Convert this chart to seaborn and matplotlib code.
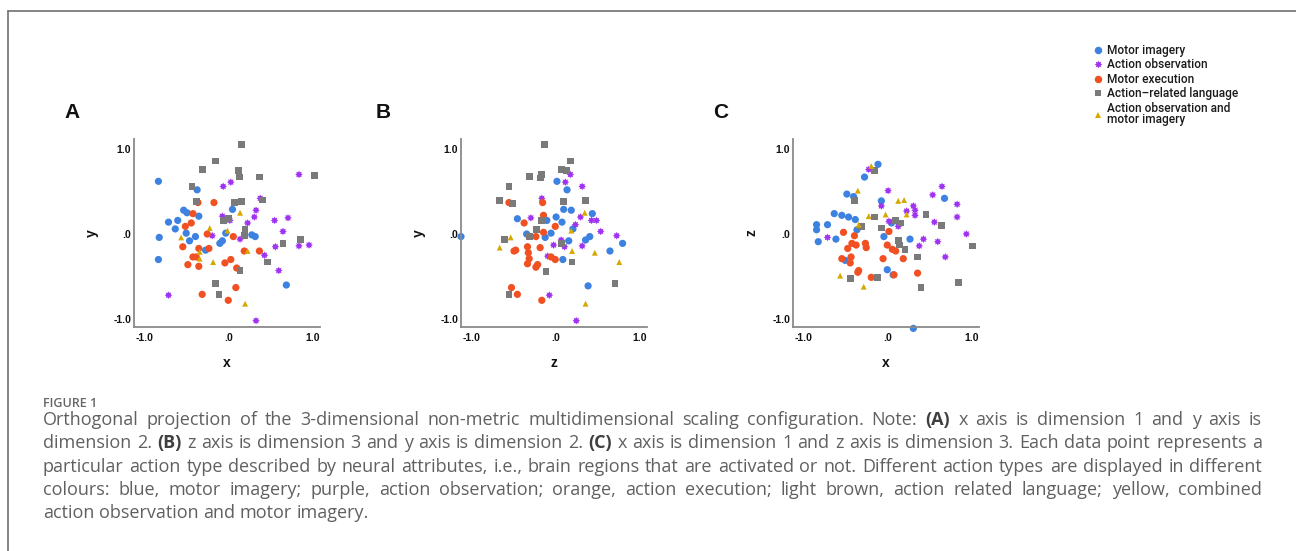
import matplotlib
matplotlib.use("Agg")
import matplotlib.pyplot as plt
from matplotlib.lines import Line2D
from matplotlib.path import Path
import numpy as np
import seaborn as sns
import pandas as pd

# ---------------- data ----------------
categories = ["Motor imagery", "Action observation", "Motor execution",
              "Action\u2013related language", "Action observation and\nmotor imagery"]

# Panel A: x (dim 1) vs y (dim 2)
A_mi_x = [-0.83, -0.37, -0.53, -0.49, -0.35, -0.71, -0.60, -0.63, -0.82, -0.83, -0.50, -0.39, -0.46, -0.27, -0.10, -0.07, -0.03, 0.05, 0.28, 0.32, 0.69]
A_mi_y = [0.62, 0.52, 0.28, 0.25, 0.21, 0.14, 0.16, 0.06, -0.04, -0.30, 0.01, -0.03, -0.08, -0.19, -0.11, -0.08, 0.01, 0.29, -0.01, -0.03, -0.60]
A_ao_x = [0.84, -0.06, 0.03, 0.38, 0.33, 0.31, 0.23, -0.07, 0.02, 0.55, 0.71, 0.65, 0.56, 0.84, 0.96, 0.14, -0.19, 0.43, 0.60, -0.71, 0.33]
A_ao_y = [0.70, 0.56, 0.61, 0.42, 0.28, 0.20, 0.13, 0.21, 0.16, 0.16, 0.19, 0.03, -0.15, -0.14, -0.13, -0.06, -0.02, -0.25, -0.43, -0.72, -1.02]
A_me_x = [-0.36, -0.17, -0.42, -0.44, -0.51, -0.54, -0.25, -0.35, -0.23, -0.42, -0.38, -0.48, -0.35, -0.04, 0.03, 0.06, 0.10, 0.19, 0.37, 0.09, -0.31, 0.00]
A_me_y = [0.37, 0.37, 0.24, 0.13, 0.09, -0.15, 0.00, -0.17, -0.17, -0.27, -0.27, -0.36, -0.38, -0.34, -0.30, -0.03, -0.40, -0.20, -0.20, -0.63, -0.71, -0.78]
A_al_x = [0.16, -0.15, -0.31, 0.12, 0.13, 0.37, 1.02, -0.43, -0.38, 0.07, 0.16, 0.41, -0.06, 0.00, 0.20, 0.19, 0.65, 0.86, 0.47, 0.14, -0.15, -0.11]
A_al_y = [1.05, 0.86, 0.76, 0.75, 0.67, 0.67, 0.69, 0.56, 0.38, 0.37, 0.38, 0.40, 0.16, 0.18, 0.05, -0.02, -0.11, -0.06, -0.33, -0.43, -0.58, -0.71]
A_aomi_x = [0.14, -0.22, -0.56, -0.01, -0.34, -0.34, -0.18, 0.23, 0.20]
A_aomi_y = [0.25, 0.07, -0.04, 0.04, -0.21, -0.29, -0.33, -0.20, -0.82]

# Panel B: z (dim 3) vs y (dim 2)
B_mi_x = [-1.12, 0.02, 0.14, 0.10, 0.19, 0.44, -0.45, -0.10, 0.01, 0.08, 0.21, -0.34, -0.12, -0.05, 0.16, 0.36, 0.41, 0.65, 0.80, 0.09, 0.39]
B_mi_y = [-0.03, 0.62, 0.52, 0.29, 0.28, 0.24, 0.18, 0.16, 0.20, 0.14, 0.06, 0.00, -0.04, 0.01, -0.08, -0.07, -0.03, -0.20, -0.11, -0.30, -0.61]
B_ao_x = [0.18, 0.12, 0.32, -0.16, -0.29, 0.30, 0.43, 0.49, 0.24, 0.54, 0.73, 0.07, 0.11, -0.02, 0.32, -0.09, -0.07, 0.25]
B_ao_y = [0.70, 0.61, 0.56, 0.42, 0.19, 0.20, 0.16, 0.16, 0.11, 0.03, -0.02, -0.07, -0.15, -0.13, -0.14, -0.26, -0.72, -1.02]
B_me_x = [-0.55, -0.15, -0.14, -0.37, -0.14, -0.23, 0.00, -0.47, -0.49, -0.33, -0.32, -0.18, -0.31, -0.33, -0.21, -0.23, -0.05, 0.00, -0.52, -0.45, -0.16]
B_me_y = [0.37, 0.37, 0.22, 0.13, 0.02, -0.03, 0.09, -0.19, -0.20, -0.15, -0.22, -0.16, -0.29, -0.35, -0.36, -0.39, -0.27, -0.30, -0.63, -0.71, -0.78]
B_al_x = [-0.13, 0.18, -0.31, -0.16, -0.18, 0.07, 0.13, -0.55, -0.66, -0.51, 0.10, 0.36, -0.16, -0.22, -0.31, -0.60, 0.07, 0.20, -0.11, 0.71, -0.55]
B_al_y = [1.05, 0.86, 0.68, 0.70, 0.66, 0.76, 0.75, 0.56, 0.39, 0.36, 0.38, 0.39, 0.16, 0.05, -0.03, -0.06, -0.11, -0.33, -0.44, -0.58, -0.71]
B_aomi_x = [0.35, 0.19, -0.53, -0.66, 0.20, 0.47, 0.76, 0.36]
B_aomi_y = [0.25, 0.04, -0.04, -0.16, -0.20, -0.22, -0.33, -0.82]

# Panel C: x (dim 1) vs z (dim 3)
C_mi_x = [-0.11, -0.27, -0.48, -0.40, -0.07, 0.68, -0.63, -0.54, -0.46, -0.38, -0.84, -0.84, -0.71, -0.82, -0.61, -0.36, 0.05, -0.04, 0.27, -0.50, 0.00, 0.07, 0.31]
C_mi_y = [0.82, 0.67, 0.47, 0.44, 0.39, 0.42, 0.24, 0.22, 0.20, 0.17, 0.11, 0.05, 0.11, -0.09, -0.06, 0.05, 0.13, -0.03, -0.06, -0.31, -0.42, -0.48, -1.11]
C_ao_x = [-0.22, 0.01, -0.07, 0.54, 0.65, 0.83, 0.83, 0.31, 0.33, 0.23, 0.33, 0.56, 0.02, 0.13, 0.94, 0.43, 0.60, 0.38, 0.69, -0.71]
C_ao_y = [0.76, 0.51, 0.33, 0.46, 0.56, 0.35, 0.20, 0.33, 0.28, 0.27, 0.22, 0.14, 0.15, 0.09, 0.00, -0.06, -0.09, -0.14, -0.27, -0.04]
C_me_x = [-0.52, -0.39, 0.02, -0.42, -0.37, -0.47, -0.26, -0.25, 0.00, 0.06, 0.10, -0.43, -0.54, -0.44, -0.05, 0.19, -0.34, -0.35, -0.19, 0.08, 0.36]
C_me_y = [0.02, -0.02, 0.03, -0.11, -0.13, -0.17, -0.11, -0.16, -0.13, -0.18, -0.20, -0.27, -0.29, -0.34, -0.29, -0.29, -0.43, -0.45, -0.51, -0.48, -0.46]
C_al_x = [-0.15, -0.39, -0.15, -0.31, -0.07, 0.10, 0.16, 0.46, 0.64, 1.01, 0.13, 0.15, 0.21, 0.36, -0.44, -0.12, 0.40, 0.85]
C_al_y = [0.75, 0.39, 0.20, 0.09, 0.07, 0.16, 0.13, 0.23, 0.10, -0.14, -0.08, -0.13, -0.18, -0.27, -0.52, -0.51, -0.63, -0.57]
C_aomi_x = [-0.19, -0.35, 0.13, 0.20, 0.23, -0.02, -0.22, -0.34, -0.56, -0.28]
C_aomi_y = [0.80, 0.51, 0.39, 0.40, 0.23, 0.23, 0.21, 0.11, -0.49, -0.62]

tick_values = [-1.0, 0.0, 1.0]
tick_labels = ["-1.0", ".0", "1.0"]

panel_letters = ["A", "B", "C"]
panel_xlabels = ["x", "z", "x"]
panel_ylabels = ["y", "y", "z"]

caption_title = "FIGURE 1"
caption_lines = [
    "Orthogonal projection of the 3-dimensional non-metric multidimensional scaling configuration. Note: (A) x axis is dimension 1 and y axis is",
    "dimension 2. (B) z axis is dimension 3 and y axis is dimension 2. (C) x axis is dimension 1 and z axis is dimension 3. Each data point represents a",
    "particular action type described by neural attributes, i.e., brain regions that are activated or not. Different action types are displayed in different",
    "colours: blue, motor imagery; purple, action observation; orange, action execution; light brown, action related language; yellow, combined",
    "action observation and motor imagery.",
]
bold_words = {"(A)", "(B)", "(C)"}

# ---------------- build tables ----------------
def panel_df(groups):
    rows = []
    for cat, (xs, ys) in zip(categories, groups):
        for a, b in zip(xs, ys):
            rows.append({"h": a, "v": b, "cat": cat})
    return pd.DataFrame(rows)

dfA = panel_df([(A_mi_x, A_mi_y), (A_ao_x, A_ao_y), (A_me_x, A_me_y), (A_al_x, A_al_y), (A_aomi_x, A_aomi_y)])
dfB = panel_df([(B_mi_x, B_mi_y), (B_ao_x, B_ao_y), (B_me_x, B_me_y), (B_al_x, B_al_y), (B_aomi_x, B_aomi_y)])
dfC = panel_df([(C_mi_x, C_mi_y), (C_ao_x, C_ao_y), (C_me_x, C_me_y), (C_al_x, C_al_y), (C_aomi_x, C_aomi_y)])

# ---------------- style ----------------
sns.set_style("white")
plt.rcParams["font.family"] = ["Liberation Sans", "DejaVu Sans"]

# sun-like 8-point star marker shape (marker glyph, not data)
_ang = np.linspace(0, 2 * np.pi, 17)[:-1] + np.pi / 2
_rad = np.where(np.arange(16) % 2 == 0, 1.0, 0.62)
_verts = np.column_stack([_rad * np.cos(_ang), _rad * np.sin(_ang)])
_verts = np.vstack([_verts, _verts[:1]])
star_marker = Path(_verts, closed=True)

colors = ["#3d82e0", "#a033f2", "#f05022", "#7a7a7a", "#d6a800"]
markers = ["o", star_marker, "o", "s", "^"]
sizes = [27, 30, 27, 24, 18]
leg_sizes = [5.4, 5.4, 5.4, 5.0, 4.4]

W, H = 1296, 551
fig = plt.figure(figsize=(W / 100, H / 100), dpi=100)

def fx(px):
    return px / W

def fy(py):
    return 1 - py / H

axes_left = [134, 461, 793]
ax_w, ax_top, ax_bot = 186, 139, 327
letter_x = [72, 383, 721]

spine_col = "#8a8a8a"
for i, df in enumerate([dfA, dfB, dfC]):
    ax = fig.add_axes([fx(axes_left[i]), fy(ax_bot), ax_w / W, (ax_bot - ax_top) / H])
    for cat, c, m, s in zip(categories, colors, markers, sizes):
        sub = df[df["cat"] == cat]
        sns.scatterplot(data=sub, x="h", y="v", ax=ax, color=c, marker=m, s=s,
                        linewidth=0, edgecolor="none", clip_on=False, legend=False)
    ax.set_xlim(-1.12, 1.09)
    ax.set_ylim(-1.094, 1.118)
    ax.set_xticks(tick_values)
    ax.set_xticklabels(tick_labels)
    ax.set_yticks(tick_values)
    ax.set_yticklabels(tick_labels)
    ax.tick_params(axis="both", length=0, labelsize=7.5, colors="#111111")
    ax.tick_params(axis="x", pad=4.0)
    ax.tick_params(axis="y", pad=2.0)
    for lab in ax.get_xticklabels() + ax.get_yticklabels():
        lab.set_fontweight("bold")
    sns.despine(ax=ax)
    for side in ["left", "bottom"]:
        ax.spines[side].set_color(spine_col)
        ax.spines[side].set_linewidth(1.3)
    ax.set_xlabel(panel_xlabels[i], fontsize=10, fontweight="bold", color="#111111")
    ax.set_ylabel(panel_ylabels[i], fontsize=10, fontweight="bold", color="#111111")
    ax.xaxis.label.set_va("center")
    ax.yaxis.label.set_va("center")
    ax.xaxis.set_label_coords(0.5, -36 / (ax_bot - ax_top))
    ax.yaxis.set_label_coords(-42 / ax_w, 0.5)
    ax.set_facecolor("none")
    fig.text(fx(letter_x[i]), fy(112), panel_letters[i], fontsize=15, fontweight="bold",
             ha="center", va="center", color="#111111")

# legend
handles = [Line2D([], [], marker=m, linestyle="", color=c, markersize=ms, markeredgewidth=0)
           for m, c, ms in zip(markers, colors, leg_sizes)]
leg = fig.legend(handles, categories, loc="upper left", bbox_to_anchor=(fx(1093), fy(44)),
                 frameon=False, handlelength=0.9, handletextpad=0.25,
                 labelspacing=0.12, borderpad=0, borderaxespad=0,
                 prop={"family": "Roboto", "weight": "medium", "size": 8.6})
for t in leg.get_texts():
    t.set_linespacing(0.85)
    t.set_color("#1a1a1a")

# border lines (top and left)
fig.add_artist(Line2D([fx(8), 1.0], [fy(11), fy(11)], color="#707070", lw=1.2, transform=fig.transFigure))
fig.add_artist(Line2D([fx(8), fx(8)], [fy(11), 0.0], color="#707070", lw=1.2, transform=fig.transFigure))

# caption
cap_font = "Open Sans"
fig.text(fx(43), fy(407), caption_title, fontsize=9, fontweight="semibold", family=cap_font,
         color="#666666", va="baseline", ha="left")

fig.canvas.draw()
renderer = fig.canvas.get_renderer()
x0, x1 = 43, 1262
baselines = [425, 448.3, 471.6, 495, 518.3]

# choose a caption size so the widest justified line fits with normal word spacing
base_fs = 11
nat = []
for line in caption_lines[:-1]:
    p = fig.text(0, 0, line, fontsize=base_fs, family=cap_font)
    nat.append(p.get_window_extent(renderer).width)
    p.remove()
cap_fs = base_fs * (x1 - x0) / max(nat) * 0.985

probe1 = fig.text(0, 0, "a a", fontsize=cap_fs, family=cap_font)
probe2 = fig.text(0, 0, "aa", fontsize=cap_fs, family=cap_font)
space_w = probe1.get_window_extent(renderer).width - probe2.get_window_extent(renderer).width
probe1.remove()
probe2.remove()

for li, line in enumerate(caption_lines):
    words = line.split(" ")
    texts = []
    for w in words:
        b = w in bold_words
        t = fig.text(0, fy(baselines[li]), w, fontsize=cap_fs, family=cap_font,
                     fontweight="bold" if b else "normal",
                     color="#3f3f3f" if b else "#606060", va="baseline", ha="left")
        texts.append(t)
    widths = [t.get_window_extent(renderer).width for t in texts]
    last = li == len(caption_lines) - 1
    if last or len(words) < 2:
        gap = space_w
    else:
        gap = (x1 - x0 - sum(widths)) / (len(words) - 1)
    xp = x0
    for t, wd in zip(texts, widths):
        t.set_x(fx(xp))
        xp += wd + gap

fig.savefig("out.png", dpi=100)
